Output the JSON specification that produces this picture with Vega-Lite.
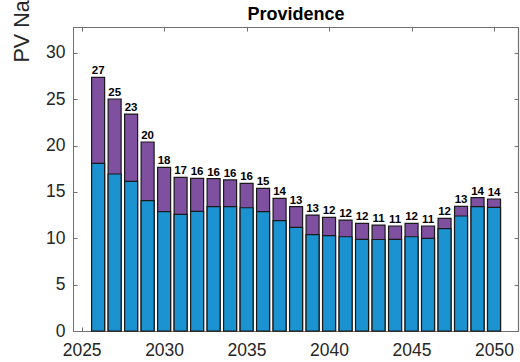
{
  "$schema": "https://vega.github.io/schema/vega-lite/v6.json",
  "autosize": {"type": "none"},
  "width": 445,
  "height": 304,
  "padding": {"left": 73, "top": 27, "right": 2, "bottom": 31},
  "background": "white",
  "config": {"view": {"stroke": "#707070", "strokeWidth": 1}},
  "data": {"values": [
    {"year": 2026, "lower": 18.09, "total": 27.37},
    {"year": 2027, "lower": 16.94, "total": 25.03},
    {"year": 2028, "lower": 16.15, "total": 23.4},
    {"year": 2029, "lower": 14.06, "total": 20.39},
    {"year": 2030, "lower": 12.87, "total": 17.66},
    {"year": 2031, "lower": 12.59, "total": 16.58},
    {"year": 2032, "lower": 12.91, "total": 16.47},
    {"year": 2033, "lower": 13.41, "total": 16.45},
    {"year": 2034, "lower": 13.41, "total": 16.3},
    {"year": 2035, "lower": 13.3, "total": 15.93},
    {"year": 2036, "lower": 12.87, "total": 15.39},
    {"year": 2037, "lower": 11.9, "total": 14.31},
    {"year": 2038, "lower": 11.18, "total": 13.41},
    {"year": 2039, "lower": 10.39, "total": 12.51},
    {"year": 2040, "lower": 10.28, "total": 12.26},
    {"year": 2041, "lower": 10.17, "total": 11.97},
    {"year": 2042, "lower": 9.89, "total": 11.62},
    {"year": 2043, "lower": 9.87, "total": 11.43},
    {"year": 2044, "lower": 9.89, "total": 11.33},
    {"year": 2045, "lower": 10.17, "total": 11.62},
    {"year": 2046, "lower": 10.0, "total": 11.33},
    {"year": 2047, "lower": 11.04, "total": 12.16},
    {"year": 2048, "lower": 12.41, "total": 13.45},
    {"year": 2049, "lower": 13.41, "total": 14.38},
    {"year": 2050, "lower": 13.34, "total": 14.24}
  ]},
  "layer": [
    {
      "mark": {"type": "bar", "size": 13, "color": "#7E509F", "stroke": "#1a1a1a", "strokeWidth": 1.2},
      "encoding": {
        "x": {"field": "year", "type": "quantitative",
          "scale": {"domain": [2024.78, 2051.15], "nice": false, "zero": false},
          "axis": {"orient": "bottom", "values": [2025, 2030, 2035, 2040, 2045, 2050], "format": "d", "title": null, "grid": false,
            "domainColor": "#707070", "tickColor": "#707070", "tickSize": -4, "labelPadding": 14.5,
            "labelFont": "Liberation Sans", "labelFontSize": 17.5, "labelColor": "#262626", "labelFlush": false}},
        "y": {"field": "total", "type": "quantitative",
          "scale": {"domain": [0, 32.8], "nice": false},
          "axis": {"orient": "left", "values": [0, 5, 10, 15, 20, 25, 30], "title": "PV Nameplate Capacity (MW)", "grid": false,
            "domainColor": "#707070", "tickColor": "#707070", "tickSize": -4, "labelPadding": 12,
            "labelFont": "Liberation Sans", "labelFontSize": 17.5, "labelColor": "#262626",
            "titleFont": "Liberation Sans", "titleFontSize": 21.5, "titleFontWeight": "normal", "titleColor": "#262626",
            "titleAngle": -90, "titleAlign": "left", "titleBaseline": "alphabetic", "titleX": -45, "titleY": 35}}
      }
    },
    {
      "mark": {"type": "bar", "size": 13, "color": "#1B93D1", "stroke": "#1a1a1a", "strokeWidth": 1.2},
      "encoding": {
        "x": {"field": "year", "type": "quantitative", "axis": null},
        "y": {"field": "lower", "type": "quantitative", "axis": null}
      }
    },
    {
      "mark": {"type": "text", "font": "Liberation Sans", "fontSize": 11.5, "fontWeight": "bold", "color": "#000000", "baseline": "alphabetic", "dy": -3},
      "encoding": {
        "x": {"field": "year", "type": "quantitative", "axis": null},
        "y": {"field": "total", "type": "quantitative", "axis": null},
        "text": {"field": "total", "type": "quantitative", "format": ".0f"}
      }
    },
    {
      "mark": {"type": "point", "opacity": 0},
      "encoding": {
        "x": {"field": "year", "type": "quantitative", "axis": {"orient": "top", "values": [2025, 2030, 2035, 2040, 2045, 2050], "labels": false, "title": "Providence", "titleFont": "Liberation Sans", "titleFontSize": 18, "titleFontWeight": "bold", "titleColor": "#000000", "titlePadding": 3, "grid": false, "domainColor": "#707070", "domainWidth": 1.2, "tickColor": "#707070", "tickSize": -4}},
        "y": {"field": "total", "type": "quantitative", "axis": {"orient": "right", "values": [0, 5, 10, 15, 20, 25, 30], "labels": false, "title": null, "grid": false, "domainColor": "#707070", "domainWidth": 1.2, "tickColor": "#707070", "tickSize": -4}}
      }
    }
  ],
  "resolve": {"axis": {"x": "independent", "y": "independent"}}
}
